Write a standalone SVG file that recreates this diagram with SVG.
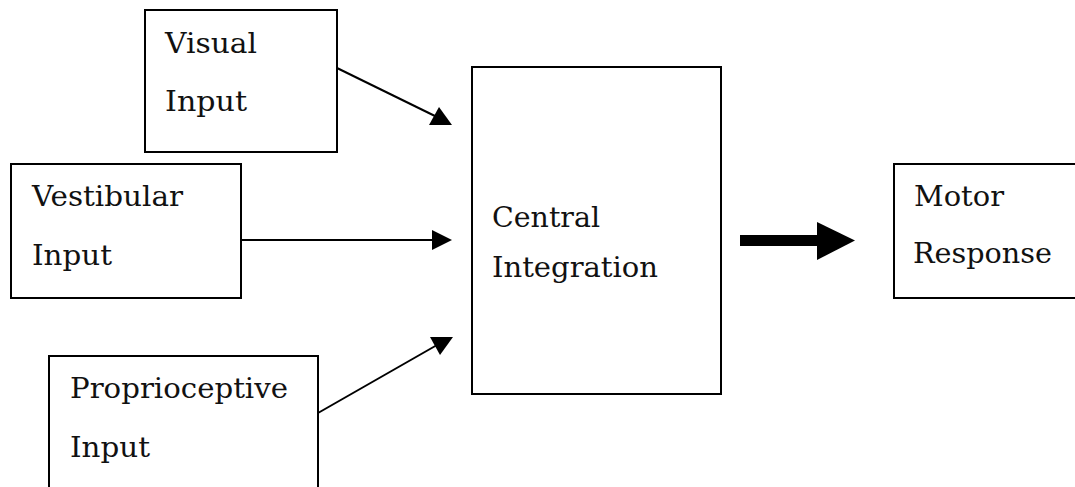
<svg xmlns="http://www.w3.org/2000/svg" width="1075" height="487" viewBox="0 0 1075 487">
<style>
.box{fill:#fff;stroke:#000;stroke-width:2}
.t{font-family:"DejaVu Serif","Liberation Serif",serif;font-size:27px;fill:#111}
.ln{stroke:#000;stroke-width:2;fill:none}
.hd{fill:#000}
</style>
<rect width="1075" height="487" fill="#fff"/>
<g id="visual">
<rect class="box" x="145" y="10" width="192" height="142"/>
<text class="t" x="165" y="53" textLength="92" lengthAdjust="spacingAndGlyphs">Visual</text>
<text class="t" x="165" y="111" textLength="82" lengthAdjust="spacingAndGlyphs">Input</text>
</g>
<g id="vestibular">
<rect class="box" x="11" y="164" width="230" height="134"/>
<text class="t" x="32" y="206" textLength="151" lengthAdjust="spacingAndGlyphs">Vestibular</text>
<text class="t" x="32" y="265" textLength="80" lengthAdjust="spacingAndGlyphs">Input</text>
</g>
<g id="proprioceptive">
<rect class="box" x="49" y="356" width="269" height="140"/>
<text class="t" x="70" y="398" textLength="218" lengthAdjust="spacingAndGlyphs">Proprioceptive</text>
<text class="t" x="70" y="457" textLength="80" lengthAdjust="spacingAndGlyphs">Input</text>
</g>
<g id="central">
<rect class="box" x="472" y="67" width="249" height="327"/>
<text class="t" x="492" y="227" textLength="108" lengthAdjust="spacingAndGlyphs">Central</text>
<text class="t" x="492" y="277" textLength="166" lengthAdjust="spacingAndGlyphs">Integration</text>
</g>
<g id="motor">
<rect class="box" x="894" y="164" width="190" height="134"/>
<text class="t" x="914" y="206" textLength="90" lengthAdjust="spacingAndGlyphs">Motor</text>
<text class="t" x="913" y="263" textLength="139" lengthAdjust="spacingAndGlyphs">Response</text>
</g>
<g id="connectors">
<line class="ln" x1="337" y1="68" x2="437" y2="117"/>
<polygon class="hd" points="429,125 452,125 439,107"/>
<line class="ln" x1="241" y1="240" x2="434" y2="240"/>
<polygon class="hd" points="432,230 452,240 432,250"/>
<line class="ln" x1="318" y1="413" x2="437" y2="345"/>
<polygon class="hd" points="430,337 453,337 440,355"/>
<rect class="hd" x="740" y="235" width="78" height="11"/>
<polygon class="hd" points="817,222 855,240.5 817,260"/>
</g>
</svg>
